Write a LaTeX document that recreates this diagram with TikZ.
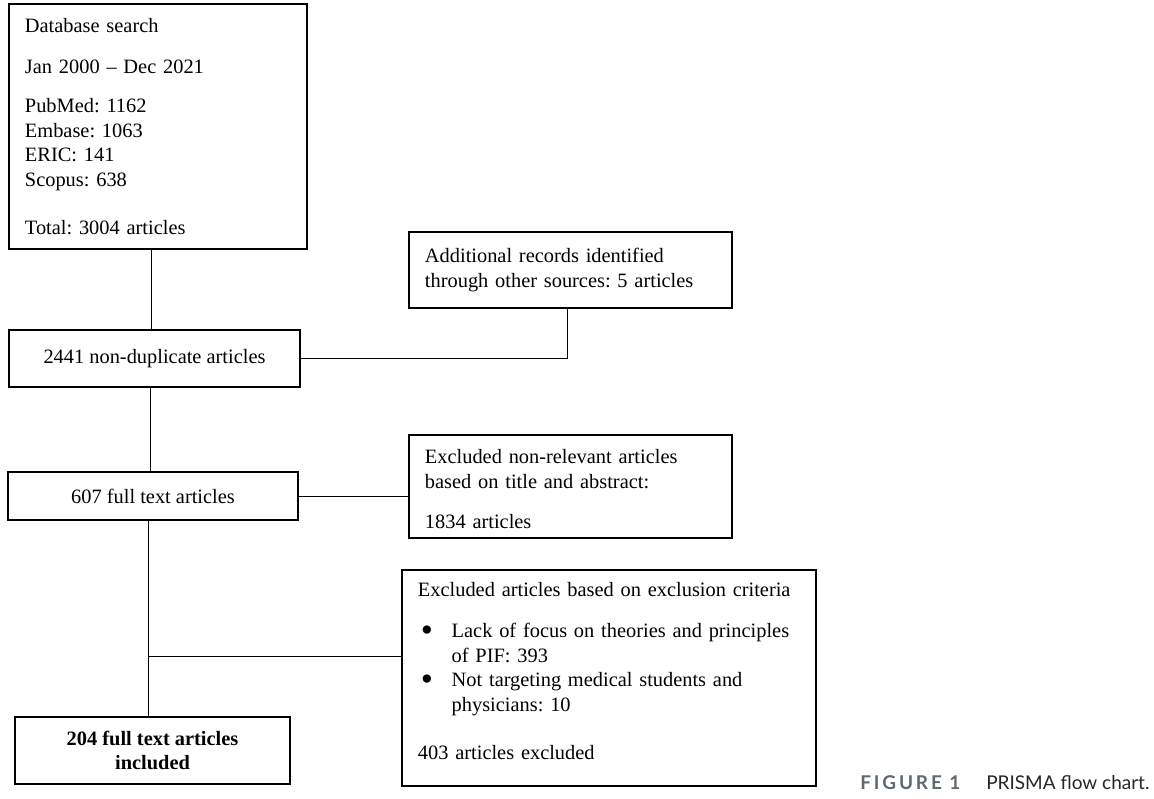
\documentclass[tikz,border=0pt]{standalone}
\usepackage{fontspec}
\setmainfont{Liberation Serif}
\newfontfamily\capfont{Lato}
\usepackage{xcolor}
\usetikzlibrary{positioning}
\definecolor{capgray}{HTML}{5E6870}
\frenchspacing

\tikzset{
  box/.style={draw, rectangle, line width=1.1pt, inner xsep=0.4cm, inner ysep=0pt,
    font=\fontsize{14.5}{17.4}\selectfont},
  link/.style={line width=0.6pt},
  capstyle/.style={anchor=base west, inner sep=0pt,
    font=\fontsize{13.5}{16}\selectfont\capfont},
}
\newcommand{\bul}{\makebox[24pt][l]{\hspace{2pt}\raisebox{-2.6pt}{\scalebox{1.7}{\textbullet}}}}

\begin{document}
\begin{tikzpicture}[x=0.025cm, y=-0.025cm]
\useasboundingbox (0,0) rectangle (1154,798);

% identification
\node[box, minimum width=7.45cm, minimum height=6.125cm, text width=6.65cm, align=left]
  (search) at (158,126.5) {Database search\\[11.7pt]
  Jan 2000 -- Dec 2021\\[10.3pt]
  PubMed: 1162\\ Embase: 1063\\ ERIC: 141\\ Scopus: 638\\[16.7pt]
  Total: 3004 articles};
\node[box, minimum width=8.075cm, minimum height=1.9cm, text width=7.275cm, align=left]
  (other) at (570.5,270) {Additional records identified\\ through other sources: 5 articles\rule[-2pt]{0pt}{2pt}};

% screening
\node[box, minimum width=7.275cm, minimum height=1.425cm] (dup) at (154.5,358.5)
  {2441 non-duplicate articles};
\node[box, minimum width=7.25cm, minimum height=1.2cm] (full) at (153,496)
  {607 full text articles};
\node[box, minimum width=8.075cm, minimum height=2.575cm, text width=7.275cm, align=left]
  (nonrel) at (570.5,486.5) {\rule{0pt}{14pt}Excluded non-relevant articles\\ based on title and abstract:\\[11.7pt]
  1834 articles};

% eligibility
\node[box, minimum width=10.35cm, minimum height=5.4cm, text width=9.55cm, align=left]
  (crit) at (609,678) {Excluded articles based on exclusion criteria\\[11.7pt]
  \bul Lack of focus on theories and principles\\
  \hspace*{24pt}of PIF: 393\\
  \bul Not targeting medical students and\\
  \hspace*{24pt}physicians: 10\\[16.7pt]
  403 articles excluded\rule[-10pt]{0pt}{10pt}};

% included
\node[box, minimum width=6.875cm, minimum height=1.675cm, align=center,
  font=\fontsize{14.5}{17.4}\selectfont\bfseries] (incl) at (152.5,750.5)
  {204 full text articles\\ included};

% links
\draw[link] (dup.north) ++(-3.5,0) coordinate (a) -- (a |- search.south);
\draw[link] (other.south) ++(-3.5,0) coordinate (drop) |- (dup.east);
\draw[link] (dup.south) ++(-4,0) coordinate (b) -- (b |- full.north);
\draw[link] (full.east) -- (full.east -| nonrel.west);
\draw[link] (full.south) ++(-5,0) coordinate (c) -- (c |- incl.north) coordinate[pos=0.695] (split);
\draw[link] (split) -- (split -| crit.west);

% caption
\node[capstyle, text=capgray, font=\fontsize{13.5}{16}\selectfont\capfont\bfseries]
  (figno) at (860,789) {\addfontfeature{LetterSpace=15}FIGURE 1};
\node[capstyle, text=black!85] (figcap) at (986,789) {PRISMA flow chart.};
\end{tikzpicture}
\end{document}
